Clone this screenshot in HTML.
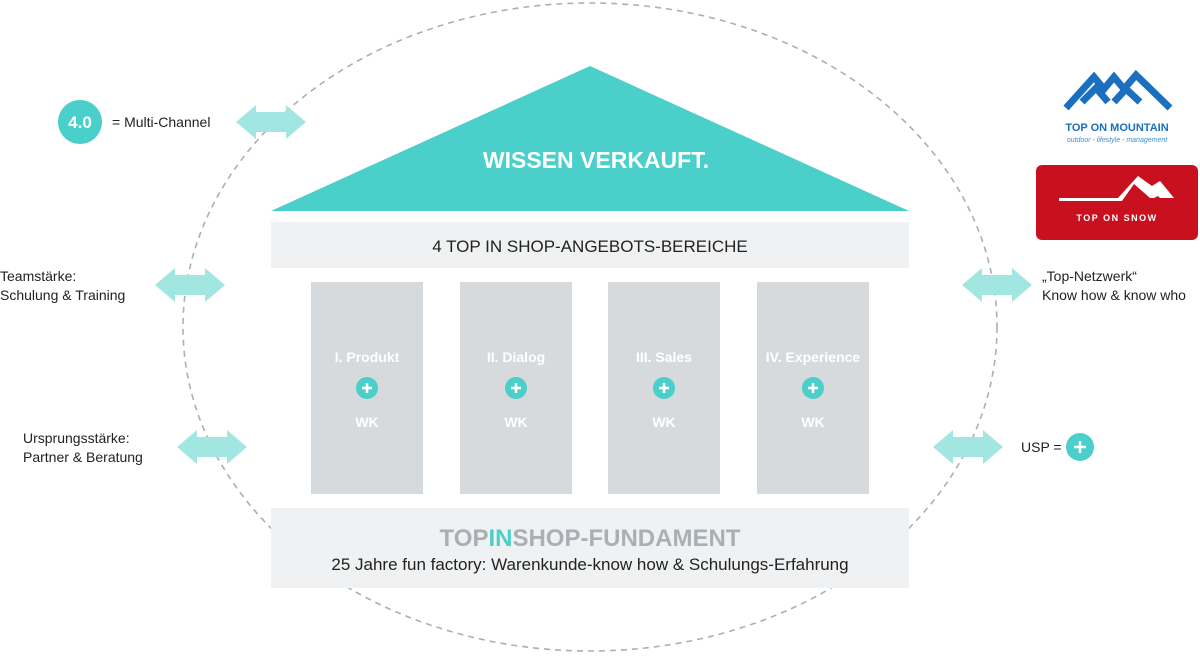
<!DOCTYPE html>
<html><head><meta charset="utf-8"><style>
html,body{margin:0;padding:0;background:#fff;}
body{width:1200px;height:654px;overflow:hidden;font-family:"Liberation Sans",sans-serif;}
</style></head><body>
<svg width="1200" height="654" viewBox="0 0 1200 654" xmlns="http://www.w3.org/2000/svg" font-family="Liberation Sans, sans-serif">
<defs>
<g id="arr"><polygon points="0,0 20,-17 20,-10 50,-10 50,-17 70,0 50,17 50,10 20,10 20,17" fill="#a2e6e1"/></g>
</defs>
<ellipse cx="590" cy="327" rx="407" ry="324" fill="none" stroke="#a9b0b8" stroke-width="1.6" stroke-dasharray="6,5"/>
<polygon points="590,66 909,211 271,211" fill="#4acfca"/>
<text x="596" y="168" text-anchor="middle" font-size="23" font-weight="bold" fill="#fff">WISSEN VERKAUFT.</text>
<rect x="271" y="222" width="638" height="46" fill="#f0f1f2"/>
<text x="590" y="252" text-anchor="middle" font-size="17" fill="#222">4 TOP IN SHOP-ANGEBOTS-BEREICHE</text>
<g font-size="14" font-weight="bold" fill="#fff" text-anchor="middle">
<rect x="311" y="282" width="112" height="212" fill="#d6dadc"/>
<rect x="460" y="282" width="112" height="212" fill="#d6dadc"/>
<rect x="608" y="282" width="112" height="212" fill="#d6dadc"/>
<rect x="757" y="282" width="112" height="212" fill="#d6dadc"/>
<text x="367" y="362">I. Produkt</text><text x="516" y="362">II. Dialog</text><text x="664" y="362">III. Sales</text><text x="813" y="362">IV. Experience</text>
<text x="367" y="427">WK</text><text x="516" y="427">WK</text><text x="664" y="427">WK</text><text x="813" y="427">WK</text>
</g>
<g fill="#4acfca"><circle cx="367" cy="388" r="11"/><circle cx="516" cy="388" r="11"/><circle cx="664" cy="388" r="11"/><circle cx="813" cy="388" r="11"/><circle cx="1080" cy="447" r="14"/><circle cx="80" cy="122" r="22"/></g>
<g stroke="#fff" stroke-width="2.6"><path d="M362,388h10M367,383v10M511,388h10M516,383v10M659,388h10M664,383v10M808,388h10M813,383v10M1074,447h12M1080,441v12"/></g>
<rect x="271" y="508" width="638" height="80" fill="#f0f1f2"/>
<text x="590" y="546" text-anchor="middle" font-size="24" font-weight="bold" fill="#a9b0b5">TOP<tspan fill="#4acfca">IN</tspan>SHOP-FUNDAMENT</text>
<text x="590" y="570" text-anchor="middle" font-size="17" fill="#222">25 Jahre fun factory: Warenkunde-know how &amp; Schulungs-Erfahrung</text>
<use href="#arr" x="236" y="122"/>
<use href="#arr" x="155" y="285"/>
<use href="#arr" x="177" y="447"/>
<use href="#arr" x="962" y="285"/>
<use href="#arr" x="933" y="447"/>
<text x="80" y="128" text-anchor="middle" font-size="17" font-weight="bold" fill="#fff">4.0</text>
<g font-size="14" fill="#222">
<text x="112" y="127">= Multi-Channel</text>
<text x="0" y="281">Teamstärke:</text><text x="0" y="300">Schulung &amp; Training</text>
<text x="23" y="443">Ursprungsstärke:</text><text x="23" y="462">Partner &amp; Beratung</text>
<text x="1042" y="281">„Top-Netzwerk“</text><text x="1042" y="300">Know how &amp; know who</text>
<text x="1021" y="452">USP =</text>
</g>
<g fill="none" stroke="#1a6fbf" stroke-width="7" stroke-linejoin="miter">
<polyline points="1066,108 1094,77 1104,89 1114,77 1124,89 1136,75 1170,108"/>
<polyline points="1082,102 1096,88 1108,102"/>
<polyline points="1114,102 1126,89 1140,102"/>
</g>
<text x="1117" y="131" text-anchor="middle" font-size="11" font-weight="bold" fill="#1a6fbf">TOP ON MOUNTAIN</text>
<text x="1117" y="142" text-anchor="middle" font-size="7" font-style="italic" fill="#3b8fd6">outdoor - lifestyle - management</text>
<rect x="1036" y="165" width="162" height="75" rx="6" fill="#c8101e"/>
<polygon points="1059,198 1118,198 1138,176 1152,186 1160,181 1174,198 1160,198 1158,196 1154,198 1150,198 1134,184 1122,201 1059,201" fill="#fff"/>
<text x="1117" y="221" text-anchor="middle" font-size="9" font-weight="bold" fill="#fff" letter-spacing="1.5">TOP ON SNOW</text>
</svg>
</body></html>
